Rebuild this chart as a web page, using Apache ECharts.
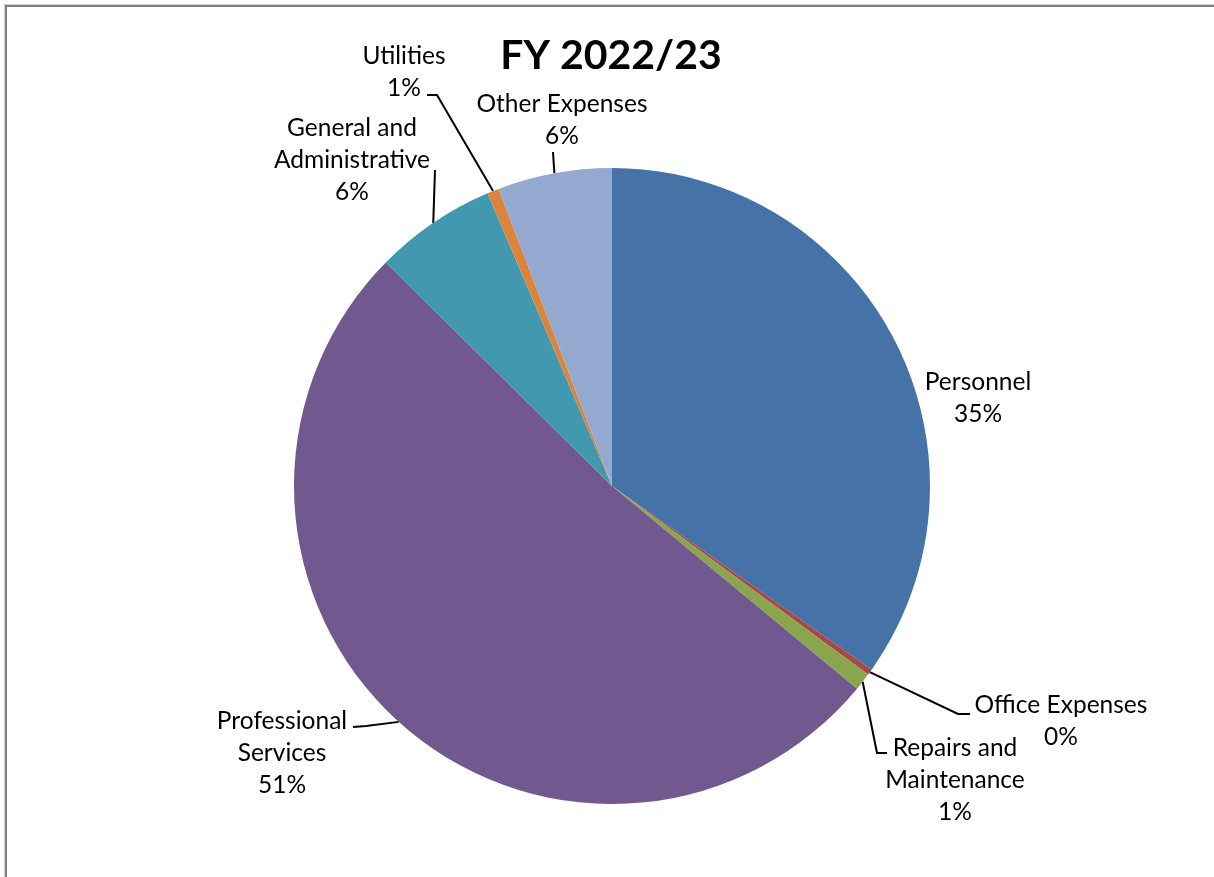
<!DOCTYPE html>
<html>
<head>
<meta charset="utf-8">
<script src="https://cdn.jsdelivr.net/npm/echarts@6/dist/echarts.min.js"></script>
<style>
html,body{margin:0;padding:0;background:#fff;}
#frame{position:absolute;left:5px;top:5px;width:1300px;height:1000px;border-top:2px solid #7f7f7f;border-left:2px solid #7f7f7f;box-shadow:-1px -1px 0 #d0d0d0;}
#chart{position:absolute;left:0;top:0;width:1214px;height:877px;}
</style>
</head>
<body>
<div id="frame"></div>
<div id="chart"></div>
<script>
const titleText = 'FY 2022/23';
const categories = ['Personnel', 'Office Expenses', 'Repairs and Maintenance', 'Professional Services', 'General and Administrative', 'Utilities', 'Other Expenses'];
const values = [34.8, 0.3, 0.9, 51.4, 6.2, 0.6, 5.8];
const colors = ['#4572A7', '#AA4643', '#89A54E', '#71588F', '#4198AF', '#DB843D', '#93A9CF'];

const wrapped = {
  'Repairs and Maintenance': 'Repairs and\nMaintenance',
  'Professional Services': 'Professional\nServices',
  'General and Administrative': 'General and\nAdministrative'
};
// label placement (layout only)
const place = {
  'Personnel': {x: 978, y: 398, pts: null},
  'Office Expenses': {x: 1061, y: 721, pts: [[958, 714], [970, 714]]},
  'Repairs and Maintenance': {x: 955, y: 780, pts: [[877, 753], [887, 753]]},
  'Professional Services': {x: 282, y: 753, pts: [[366, 726], [353, 727]]},
  'General and Administrative': {x: 352, y: 160, pts: [[435, 170]]},
  'Utilities': {x: 404, y: 72, pts: [[437, 95], [427, 95]]},
  'Other Expenses': {x: 562, y: 120, pts: [[553, 152]]}
};
const total = values.reduce((a, b) => a + b, 0);
const cx = 612, cy = 486, R = 318;

const chart = echarts.init(document.getElementById('chart'));
chart.setOption({
  animation: false,
  title: {
    text: titleText, left: 606, top: 30, textAlign: 'center',
    textStyle: {fontFamily: 'Lato', fontWeight: 'bold', fontSize: 41, color: '#000'}
  },
  series: [{
    type: 'pie',
    center: [cx, cy],
    radius: R,
    startAngle: 90,
    clockwise: true,
    avoidLabelOverlap: false,
    itemStyle: {borderWidth: 0},
    emphasis: {disabled: true},
    label: {
      show: true, position: 'outside',
      fontFamily: 'Lato', fontSize: 24.5, lineHeight: 32, color: '#000',
      align: 'center',
      formatter: p => (wrapped[p.name] || p.name) + '\n' + Math.round(p.value / total * 100) + '%'
    },
    labelLine: {show: true, lineStyle: {color: '#000', width: 2}},
    labelLayout: function (params) {
      const name = categories[params.dataIndex];
      const pl = place[name];
      let before = 0;
      for (let i = 0; i < params.dataIndex; i++) before += values[i];
      const mid = (before + values[params.dataIndex] / 2) / total * 2 * Math.PI;
      const edge = [cx + R * Math.sin(mid), cy - R * Math.cos(mid)];
      const res = {x: pl.x, y: pl.y, align: 'center', verticalAlign: 'middle'};
      if (pl.pts) res.labelLinePoints = [edge].concat(pl.pts);
      return res;
    },
    data: categories.map((c, i) => ({
      name: c, value: values[i], itemStyle: {color: colors[i]},
      labelLine: {show: c !== 'Personnel'}
    }))
  }]
});
</script>
</body>
</html>
